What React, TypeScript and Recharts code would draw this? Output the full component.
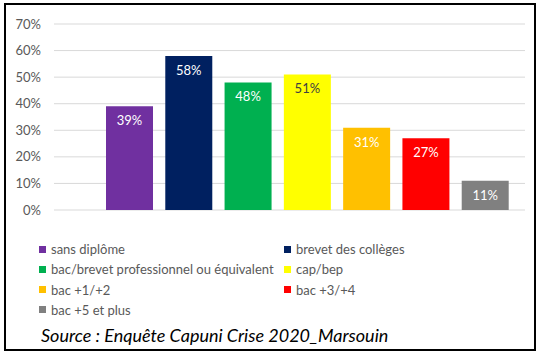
import { Bar, BarChart, CartesianGrid, Cell, LabelList, XAxis, YAxis } from 'recharts';

const categories = [
  'sans diplôme',
  'brevet des collèges',
  'bac/brevet professionnel ou équivalent',
  'cap/bep',
  'bac +1/+2',
  'bac +3/+4',
  'bac +5 et plus',
];
const values = [39, 58, 48, 51, 31, 27, 11];
const colors = ['#7030A0', '#002060', '#00B050', '#FFFF00', '#FFC000', '#FF0000', '#808080'];
const labelColors = ['#ffffff', '#ffffff', '#ffffff', '#404040', '#ffffff', '#ffffff', '#ffffff'];
const yTicks = [0, 10, 20, 30, 40, 50, 60, 70];
const source = 'Source : Enquête Capuni Crise 2020_Marsouin';

const data = categories.map((name, i) => ({ name, value: values[i], idx: i }));

const FONT = 'Lato, "Open Sans", sans-serif';

function ValueLabel(props: any) {
  const { x, y, width, value, index } = props;
  return (
    <text
      x={x + width / 2}
      y={y + 19}
      textAnchor="middle"
      fill={labelColors[index]}
      fontSize={13}
      fontFamily={FONT}
    >
      {`${value}%`}
    </text>
  );
}

export default function App() {
  // legend: two columns, filled row by row
  const legendRows: number[][] = [];
  for (let i = 0; i < categories.length; i += 2) {
    legendRows.push(i + 1 < categories.length ? [i, i + 1] : [i]);
  }

  return (
    <div style={{ position: 'absolute', left: 0, top: 0, width: 541, height: 357, background: '#fff', fontFamily: FONT }}>
      <div
        style={{
          position: 'absolute',
          left: 4,
          top: 3,
          width: 532,
          height: 348,
          border: '2px solid #000',
          boxSizing: 'border-box',
        }}
      />
      <div style={{ position: 'absolute', left: 0, top: 0 }}>
        <BarChart width={541} height={220} data={data} margin={{ top: 24, right: 16, bottom: 10, left: 0 }}>
          <CartesianGrid vertical={false} stroke="#d9d9d9" />
          <XAxis dataKey="name" hide padding={{ left: 46, right: 10 }} />
          <YAxis
            width={54}
            domain={[0, 70]}
            ticks={yTicks}
            tickFormatter={(v: number) => `${v}%`}
            axisLine={false}
            tickLine={false}
            tickSize={0}
            tickMargin={13}
            tick={{ fill: '#595959', fontSize: 13, fontFamily: FONT }}
            interval={0}
          />
          <Bar dataKey="value" barSize={47} isAnimationActive={false}>
            {data.map((d, i) => (
              <Cell key={d.name} fill={colors[i]} />
            ))}
            <LabelList dataKey="value" content={ValueLabel} />
          </Bar>
        </BarChart>
      </div>
      {legendRows.map((row, r) => (
        <div key={r}>
          {row.map((ci, c) => (
            <div
              key={ci}
              style={{
                position: 'absolute',
                left: c === 0 ? 39 : 284,
                top: 239 + r * 20.3,
                height: 20,
                display: 'flex',
                alignItems: 'center',
                fontSize: 13,
                color: '#595959',
                whiteSpace: 'nowrap',
              }}
            >
              <span style={{ width: 7, height: 7, background: colors[ci], marginRight: 5, display: 'inline-block' }} />
              <span>{categories[ci]}</span>
            </div>
          ))}
        </div>
      ))}
      <div
        style={{
          position: 'absolute',
          left: 41,
          top: 324,
          fontSize: 18,
          lineHeight: '22px',
          fontStyle: 'italic',
          color: '#000',
          whiteSpace: 'nowrap',
        }}
      >
        {source}
      </div>
    </div>
  );
}
